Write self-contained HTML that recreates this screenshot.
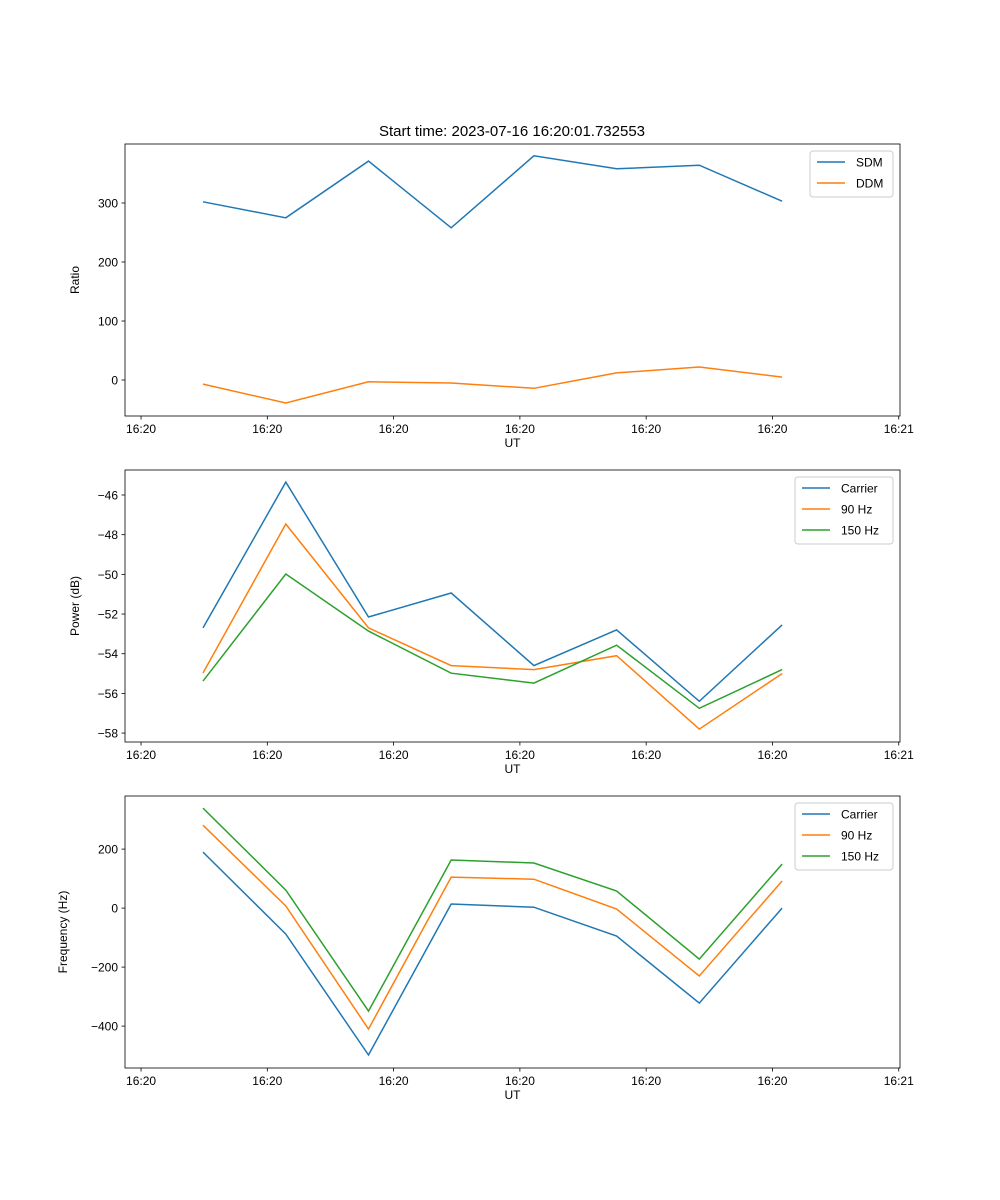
<!DOCTYPE html>
<html><head><meta charset="utf-8"><style>
body{margin:0;background:#fff}
svg{display:block;font-family:"Liberation Sans","DejaVu Sans",sans-serif}
</style></head><body>
<svg id="fig" width="1000" height="1200" viewBox="0 0 1000 1200" xmlns="http://www.w3.org/2000/svg">
<rect width="1000" height="1200" fill="#fff"/>
<text x="512" y="136" font-size="15" text-anchor="middle">Start time: 2023-07-16 16:20:01.732553</text>
</svg>
<script>
const times = [4.91, 11.46, 18.01, 24.56, 31.11, 37.66, 44.21, 50.76];
const xTicks = [0, 10, 20, 30, 40, 50, 60];
const xTickLabels = ["16:20","16:20","16:20","16:20","16:20","16:20","16:21"];
const sdm = [302, 275, 371, 258, 380, 358, 364, 303];
const ddm = [-7, -39, -3, -5, -14, 12, 22, 5];
const powCarrier = [-52.7, -45.35, -52.15, -50.94, -54.6, -52.8, -56.4, -52.55];
const pow90 = [-54.97, -47.46, -52.7, -54.6, -54.8, -54.1, -57.8, -55.0];
const pow150 = [-55.38, -49.98, -52.86, -54.98, -55.48, -53.57, -56.75, -54.8];
const freqCarrier = [190, -88, -498, 14, 3, -95, -322, 0];
const freq90 = [281, 7, -410, 105, 98, -3, -230, 92];
const freq150 = [339, 61, -349, 163, 153, 58, -173, 149];
const ratioTicks = [0, 100, 200, 300];
const powTicks = [-58, -56, -54, -52, -50, -48, -46];
const freqTicks = [-400, -200, 0, 200];

const NS = "http://www.w3.org/2000/svg";
const svg = document.getElementById('fig');
function mk(tag, attrs, parent, text){
  const e = document.createElementNS(NS, tag);
  for (const k in attrs) e.setAttribute(k, attrs[k]);
  if (text !== undefined) e.textContent = text;
  (parent || svg).appendChild(e);
  return e;
}
const L = 125, R = 900, xmin = -1.27, xmax = 60.1;
const xs = t => L + (t - xmin) / (xmax - xmin) * (R - L);

function panel(name, top, ymin, ymax, yTicks, yLabel, series, legendX, legendW){
  const bot = top + 272;
  const ys = v => bot - (v - ymin) / (ymax - ymin) * (bot - top);
  const g = mk('g', {});
  
  
  series.forEach(s => {
    const pts = s.values.map((v, i) => xs(times[i]).toFixed(1) + ',' + ys(v).toFixed(1)).join(' ');
    const pl = mk('polyline', {points: pts, fill: 'none', stroke: s.color, 'stroke-width': 1.5}, g);
    
    
  });
  const frame = mk('rect', {x: L, y: top, width: R - L, height: bot - top, fill: 'none', stroke: '#000', 'stroke-width': 0.8}, g);
  
  
  xTicks.forEach((t, i) => {
    const x = xs(t);
    mk('line', {x1: x, x2: x, y1: bot, y2: bot + 3.5, stroke: '#000', 'stroke-width': 0.8}, g);
    const tx = mk('text', {x: x, y: bot + 17, 'font-size': 12, 'text-anchor': 'middle'}, g, xTickLabels[i]);
    
    
  });
  yTicks.forEach(v => {
    const y = ys(v);
    mk('line', {x1: L - 3.5, x2: L, y1: y, y2: y, stroke: '#000', 'stroke-width': 0.8}, g);
    const ty = mk('text', {x: L - 7, y: y + 4.5, 'font-size': 12, 'text-anchor': 'end'}, g, String(v).replace('-', '\u2212'));
    
    
  });
  const xl = mk('text', {x: (L + R) / 2, y: bot + 31, 'font-size': 12, 'text-anchor': 'middle'}, g, 'UT');
  
  
  const yc = (top + bot) / 2;
  const ylx = yLabel.length > 10 ? 67 : 79;
  const yl = mk('text', {x: ylx, y: yc, 'font-size': 12, 'text-anchor': 'middle', transform: 'rotate(-90 ' + ylx + ' ' + yc + ')'}, g, yLabel);
  
  
  const lg = mk('g', {}, g);
  
  
  const lh = 4 + series.length * 21;
  mk('rect', {x: legendX, y: top + 7, width: legendW, height: lh, rx: 3, fill: '#fff', 'fill-opacity': 0.8, stroke: '#ccc'}, lg);
  series.forEach((s, i) => {
    const y = top + 18 + i * 21;
    mk('line', {x1: legendX + 7, x2: legendX + 35, y1: y, y2: y, stroke: s.color, 'stroke-width': 1.5}, lg);
    const t = mk('text', {x: legendX + 46, y: y + 4.5, 'font-size': 12}, lg, s.label);
    
    
  });
}
const C1 = '#1f77b4', C2 = '#ff7f0e', C3 = '#2ca02c';
panel('ratio', 144, -61, 400, ratioTicks, 'Ratio',
  [{key:'sdm', label:'SDM', values: sdm, color: C1}, {key:'ddm', label:'DDM', values: ddm, color: C2}], 810, 83);
panel('power', 470, -58.45, -44.74, powTicks, 'Power (dB)',
  [{key:'carrier', label:'Carrier', values: powCarrier, color: C1}, {key:'90hz', label:'90 Hz', values: pow90, color: C2}, {key:'150hz', label:'150 Hz', values: pow150, color: C3}], 795, 98);
panel('frequency', 796, -542, 380, freqTicks, 'Frequency (Hz)',
  [{key:'carrier', label:'Carrier', values: freqCarrier, color: C1}, {key:'90hz', label:'90 Hz', values: freq90, color: C2}, {key:'150hz', label:'150 Hz', values: freq150, color: C3}], 795, 98);
</script>
</body></html>
